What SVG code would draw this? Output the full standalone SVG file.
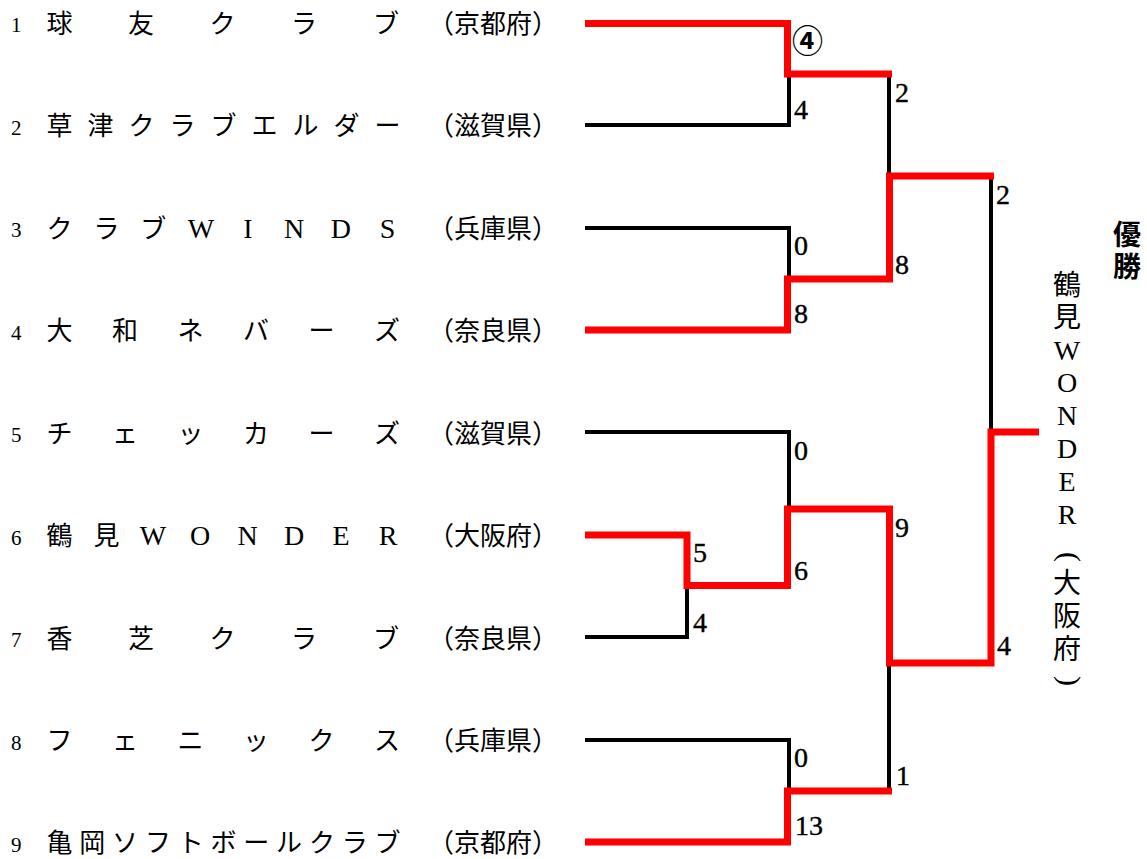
<svg xmlns="http://www.w3.org/2000/svg" width="1147" height="859" viewBox="0 0 1147 859">
<style>
.bg{fill:#fff}
.num{font-family:"Liberation Serif","Noto Sans CJK JP",serif;font-size:21px;fill:#000}
.nm{font-family:"Liberation Serif","Noto Sans CJK JP",serif;font-size:26px;fill:#000;text-anchor:middle}
.lat{font-family:"Liberation Serif",serif;font-size:28px}
.pf{font-family:"Noto Sans CJK JP",sans-serif;font-size:26px;fill:#000}
.sc{font-family:"Liberation Serif",serif;font-size:28px;fill:#000;stroke:#000;stroke-width:0.4}
.circ{font-family:"Noto Sans CJK JP",sans-serif;font-size:31px;font-weight:bold;fill:#000}
.vt{font-family:"Liberation Serif","Noto Sans CJK JP",serif;font-size:28px;fill:#000;text-anchor:middle}
.vp{font-family:"Liberation Serif",serif;font-size:30px;fill:#000;text-anchor:middle}
.ttl{font-family:"Noto Sans CJK JP",sans-serif;font-size:28px;font-weight:bold;fill:#000;text-anchor:middle}
.lose{fill:none;stroke:#000;stroke-width:4;stroke-linejoin:miter}
.win{fill:none;stroke:#ff0000;stroke-width:7;stroke-linejoin:miter}
</style>
<rect class="bg" x="0" y="0" width="1147" height="859"/>

<g id="connectors">
  <path class="lose" d="M585,125 H789 V77"/>
  <path class="lose" d="M889,74 V176"/>
  <path class="lose" d="M585,228 H789 V279"/>
  <path class="lose" d="M991,176 V432"/>
  <path class="lose" d="M585,432 H789 V509"/>
  <path class="lose" d="M585,637 H687 V585"/>
  <path class="lose" d="M585,740 H789 V791"/>
  <path class="lose" d="M889,791 V663"/>
  <path class="win" d="M585,23.5 H787.5 V74 H892"/>
  <path class="win" d="M585,330 H787.5 V279 H889.5 V176 H994"/>
  <path class="win" d="M585,535 H687 V585.5 H787.5 V509 H889.5 V663 H991 V432 H1039"/>
  <path class="win" d="M585,842 H787.5 V791 H892"/>
</g>

<g id="scores">
  <text class="circ" x="792" y="52">④</text>
  <text class="sc" x="794" y="119">4</text>
  <text class="sc" x="895" y="102">2</text>
  <text class="sc" x="794" y="255">0</text>
  <text class="sc" x="794" y="323">8</text>
  <text class="sc" x="895" y="274">8</text>
  <text class="sc" x="996" y="204">2</text>
  <text class="sc" x="794" y="460">0</text>
  <text class="sc" x="693" y="562">5</text>
  <text class="sc" x="794" y="580">6</text>
  <text class="sc" x="693" y="632">4</text>
  <text class="sc" x="895" y="537">9</text>
  <text class="sc" x="997" y="655">4</text>
  <text class="sc" x="794" y="767">0</text>
  <text class="sc" x="896" y="785">1</text>
  <text class="sc" x="795" y="835">13</text>
</g>

<g id="team1">
  <text class="num" x="11" y="32">1</text>
  <text class="nm" x="59.5 141 222.5 304 386" y="33">球友クラブ</text>
  <text class="pf" x="428" y="33">（京都府）</text>
</g>
<g id="team2">
  <text class="num" x="11" y="134.5">2</text>
  <text class="nm" x="59.5 100.6 141.6 182.6 223.6 264.6 305.6 346.6 387.5" y="135">草津クラブエルダー</text>
  <text class="pf" x="428" y="135">（滋賀県）</text>
</g>
<g id="team3">
  <text class="num" x="11" y="237">3</text>
  <text class="nm" x="59.5 106.4 153.3" y="237.5">クラブ<tspan class="lat" x="201 248 294 340.9 387.5" y="237.5">WINDS</tspan></text>
  <text class="pf" x="428" y="237.5">（兵庫県）</text>
</g>
<g id="team4">
  <text class="num" x="11" y="339.5">4</text>
  <text class="nm" x="59.5 125 190.5 256 321.5 387" y="340">大和ネバーズ</text>
  <text class="pf" x="428" y="340">（奈良県）</text>
</g>
<g id="team5">
  <text class="num" x="11" y="442">5</text>
  <text class="nm" x="59.5 125 190.5 256 321.5 387" y="442.5">チェッカーズ</text>
  <text class="pf" x="428" y="442.5">（滋賀県）</text>
</g>
<g id="team6">
  <text class="num" x="11" y="544.5">6</text>
  <text class="nm" x="59.5 106.4" y="545">鶴見<tspan class="lat" x="153 200 247.5 294 341 388" y="545">WONDER</tspan></text>
  <text class="pf" x="428" y="545">（大阪府）</text>
</g>
<g id="team7">
  <text class="num" x="11" y="647">7</text>
  <text class="nm" x="59.5 141 222.5 304 386" y="647.5">香芝クラブ</text>
  <text class="pf" x="428" y="647.5">（奈良県）</text>
</g>
<g id="team8">
  <text class="num" x="11" y="749.5">8</text>
  <text class="nm" x="59.5 125 190.5 256 321.5 387" y="750">フェニックス</text>
  <text class="pf" x="428" y="750">（兵庫県）</text>
</g>
<g id="team9">
  <text class="num" x="11" y="852">9</text>
  <text class="nm" x="59.5 92.3 125.1 157.9 190.7 223.5 256.3 289.1 321.9 354.7 387.5" y="852">亀岡ソフトボールクラブ</text>
  <text class="pf" x="428" y="852">（京都府）</text>
</g>

<g id="champion">
  <text class="ttl" x="1127 1127" y="245 277">優勝</text>
  <text class="vt" x="1067 1067 1067 1067 1067 1067 1067 1067" y="294.5 327 359.5 392 425 458 491 524">鶴見WONDER</text>
  <text class="vp" transform="translate(1067,557) rotate(90)" x="0" y="7">(</text>
  <text class="vt" x="1067 1067 1067" y="593 626 659">大阪府</text>
  <text class="vp" transform="translate(1067,681) rotate(90)" x="0" y="7">)</text>
</g>
</svg>
